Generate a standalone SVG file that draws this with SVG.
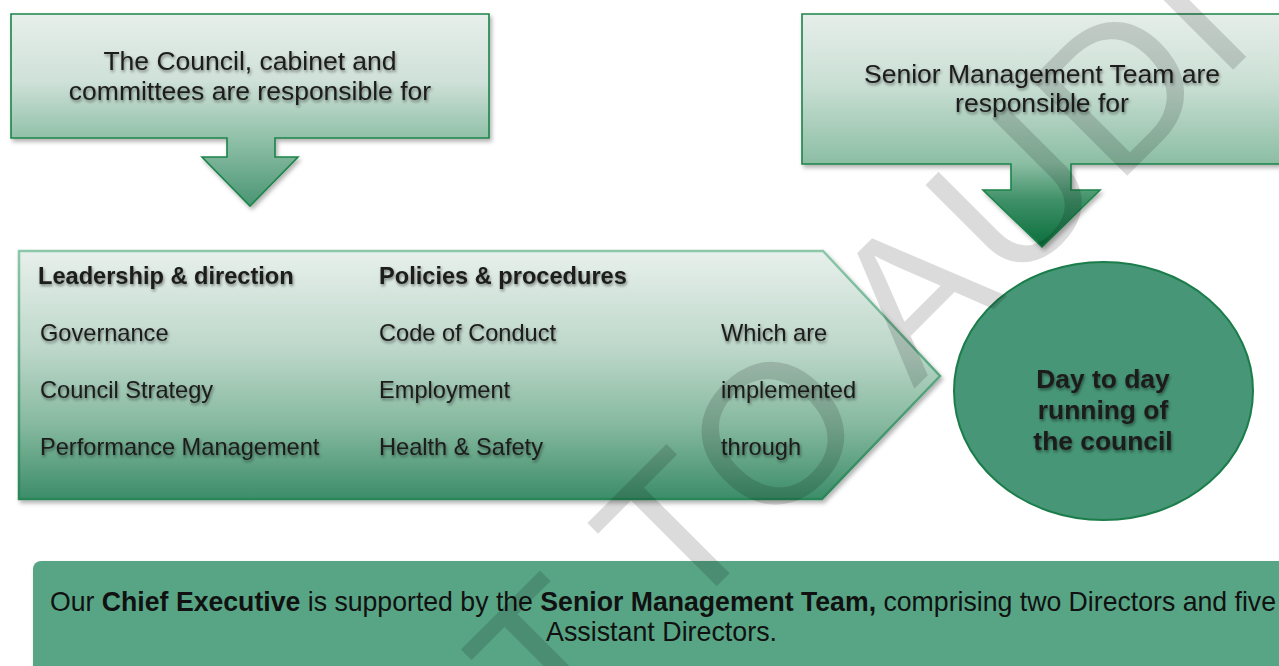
<svg xmlns="http://www.w3.org/2000/svg" width="1279" height="666" viewBox="0 0 1279 666">
  <defs>
    <linearGradient id="gradCalloutLeft" x1="0" y1="0" x2="0" y2="1">
      <stop offset="0" stop-color="#e7efeb"/>
      <stop offset="0.35" stop-color="#cfe1d8"/>
      <stop offset="0.65" stop-color="#90c0a8"/>
      <stop offset="1" stop-color="#4a9573"/>
    </linearGradient>
    <linearGradient id="gradCalloutRight" x1="0" y1="0" x2="0" y2="1">
      <stop offset="0" stop-color="#e6eeea"/>
      <stop offset="0.3" stop-color="#cadfd4"/>
      <stop offset="0.64" stop-color="#8cbea4"/>
      <stop offset="0.8" stop-color="#3f9068"/>
      <stop offset="1" stop-color="#0a6e3b"/>
    </linearGradient>
    <linearGradient id="gradPentagon" x1="0" y1="0" x2="0" y2="1">
      <stop offset="0" stop-color="#e8f0ec"/>
      <stop offset="0.4" stop-color="#bcd7c9"/>
      <stop offset="0.7" stop-color="#86b99f"/>
      <stop offset="1" stop-color="#3c8d69"/>
    </linearGradient>
    <linearGradient id="gradPentagonEdge" x1="0" y1="0" x2="0" y2="1">
      <stop offset="0" stop-color="#8cc7aa"/>
      <stop offset="1" stop-color="#2a8558"/>
    </linearGradient>
    <filter id="shapeShadow" x="-5%" y="-5%" width="110%" height="120%">
      <feDropShadow dx="2" dy="3" stdDeviation="2" flood-color="#000" flood-opacity="0.3"/>
    </filter>
    <filter id="textShadow" x="-5%" y="-30%" width="110%" height="170%">
      <feDropShadow dx="1" dy="2" stdDeviation="1.4" flood-color="#000" flood-opacity="0.45"/>
    </filter>
  </defs>
  <style>
    .callout { stroke: #1b8449; stroke-width: 1.6; filter: url(#shapeShadow); }
    .t { font-family: "Liberation Sans", Arial, sans-serif; fill: #1c1c1c; filter: url(#textShadow); }
    .head { font-size: 26.5px; text-anchor: middle; }
    .row { font-size: 23.6px; }
    .bold { font-weight: bold; }
    .circle-label { font-size: 26.4px; font-weight: bold; text-anchor: middle; }
    .banner { font-family: "Liberation Sans", Arial, sans-serif; font-size: 28px; fill: #111; }
    .mark { font-family: "Liberation Sans", Arial, sans-serif; font-size: 198px; letter-spacing: 5px; fill: #000; fill-opacity: 0.14; }
  </style>

  <rect width="1279" height="666" fill="#ffffff"/>

  <!-- Council callout -->
  <g id="council">
    <path class="callout" fill="url(#gradCalloutLeft)" d="M11,14 H489 V138 H275 V157 H298 L250,206 L202,157 H227 V138 H11 Z"/>
    <text class="t head" x="250" y="70">The Council, cabinet and</text>
    <text class="t head" x="250" y="100">committees are responsible for</text>
  </g>

  <!-- Senior Management Team callout -->
  <g id="smt">
    <path class="callout" fill="url(#gradCalloutRight)" d="M802,14 H1280 V164 H1071 V190 H1100 L1042,247 L983,190 H1011 V164 H802 Z"/>
    <text class="t head" x="1042" y="83">Senior Management Team are</text>
    <text class="t head" x="1042" y="112">responsible for</text>
  </g>

  <!-- Responsibilities pentagon -->
  <g id="responsibilities">
    <path fill="url(#gradPentagon)" stroke="url(#gradPentagonEdge)" stroke-width="2.5" filter="url(#shapeShadow)" d="M19,251 H823 L940,376 L822,499 H19 Z"/>
    <text class="t row bold" x="38" y="284">Leadership &amp; direction</text>
    <text class="t row" x="40" y="341">Governance</text>
    <text class="t row" x="40" y="398">Council Strategy</text>
    <text class="t row" x="40" y="455">Performance Management</text>
    <text class="t row bold" x="379" y="284">Policies &amp; procedures</text>
    <text class="t row" x="379" y="341">Code of Conduct</text>
    <text class="t row" x="379" y="398">Employment</text>
    <text class="t row" x="379" y="455">Health &amp; Safety</text>
    <text class="t row" x="721" y="341">Which are</text>
    <text class="t row" x="721" y="398">implemented</text>
    <text class="t row" x="721" y="455">through</text>
  </g>

  <!-- Day to day running -->
  <g id="running">
    <ellipse cx="1103.5" cy="391" rx="149.5" ry="129" fill="#479677" stroke="#1b7d4a" stroke-width="2"/>
    <text class="t circle-label" x="1103" y="388">Day to day</text>
    <text class="t circle-label" x="1103" y="419">running of</text>
    <text class="t circle-label" x="1103" y="450">the council</text>
  </g>

  <!-- Chief Executive banner -->
  <g id="chief-executive">
    <rect x="33" y="561" width="1270" height="130" rx="8" fill="#59a585" filter="url(#shapeShadow)"/>
    <text class="banner" x="50" y="611" textLength="1226" lengthAdjust="spacingAndGlyphs">Our <tspan font-weight="bold">Chief Executive</tspan> is supported by the <tspan font-weight="bold">Senior Management Team,</tspan> comprising two Directors and five</text>
    <text class="banner" x="546" y="641" textLength="231" lengthAdjust="spacingAndGlyphs">Assistant Directors.</text>
  </g>

  <!-- Watermark -->
  <text class="mark" transform="translate(554,749) rotate(-45)">T TO AUDI</text>
</svg>
